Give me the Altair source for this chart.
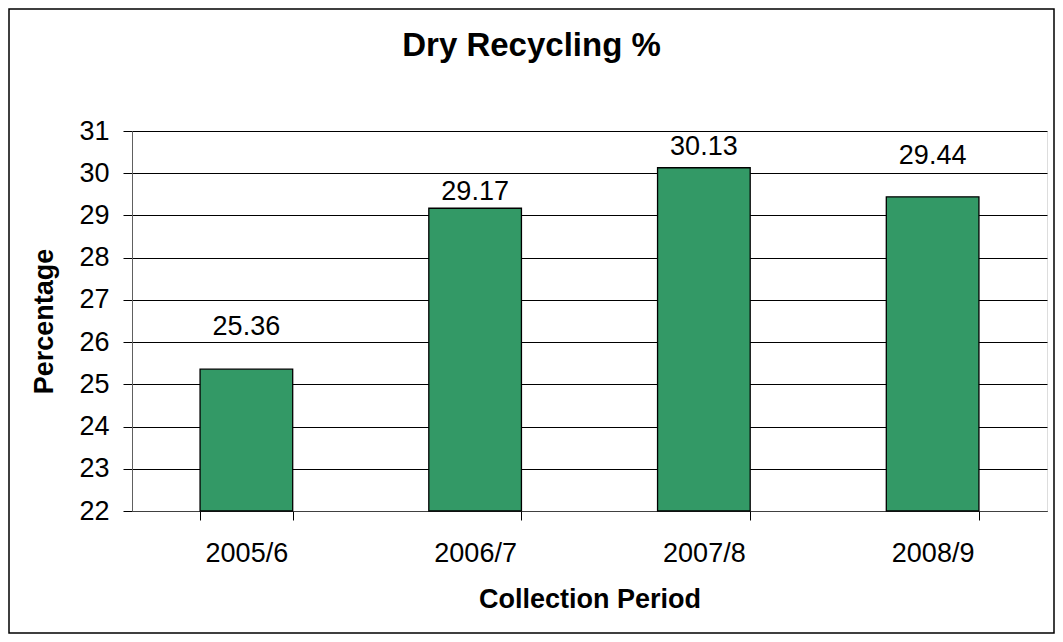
import altair as alt
import pandas as pd

periods = ["2005/6", "2006/7", "2007/8", "2008/9"]
recycling_pct = [25.36, 29.17, 30.13, 29.44]
y_ticks = [22, 23, 24, 25, 26, 27, 28, 29, 30, 31]

df = pd.DataFrame({"period": periods, "pct": recycling_pct})
df["label"] = df["pct"].map(lambda v: f"{v:.2f}")
df["base"] = y_ticks[0]

FONT = "Liberation Sans"
BAR_COLOR = "#339966"
# label lift above each bar top (pixels), as placed in the original
LABEL_DY = {"2005/6": -34, "2006/7": -8, "2007/8": -13, "2008/9": -33}

x_enc = alt.X(
    "period:N",
    sort=periods,
    scale=alt.Scale(paddingInner=0.595, paddingOuter=0.2975),
    axis=alt.Axis(
        title="Collection Period",
        tickBand="extent",
        labelAngle=0,
        tickSize=9,
        tickColor="black",
        labelPadding=20,
        labelFontSize=27,
        labelFont=FONT,
        labelColor="black",
        titleFontSize=27,
        titleFont=FONT,
        titleFontWeight="bold",
        titleColor="black",
        titlePadding=20,
        domainColor="#404040",
        grid=False,
    ),
)

y_scale = alt.Scale(domain=[y_ticks[0], y_ticks[-1]], nice=False, zero=False)
y_axis = alt.Axis(
    title="Percentage",
    values=y_ticks,
    tickSize=9,
    tickColor="black",
    labelPadding=14,
    labelFontSize=27,
    labelFont=FONT,
    labelColor="black",
    titleFontSize=27,
    titleFont=FONT,
    titleFontWeight="bold",
    titleColor="black",
    titlePadding=20,
    domainColor="#606060",
    grid=True,
    gridColor="black",
    gridWidth=1,
    gridOpacity=1,
)

bars = alt.Chart(df).mark_bar(
    color=BAR_COLOR, stroke="black", strokeWidth=1.3
).encode(
    x=x_enc,
    y=alt.Y("pct:Q", scale=y_scale, axis=y_axis),
    y2="base:Q",
)

text_common = dict(fontSize=27, font=FONT, color="black", baseline="alphabetic", align="center")

label_layers = []
for p in periods:
    label_layers.append(
        alt.Chart(df).transform_filter(
            alt.datum.period == p
        ).mark_text(dy=LABEL_DY[p], **text_common).encode(
            x=alt.X("period:N", sort=periods),
            y=alt.Y("pct:Q"),
            text="label:N",
        )
    )

border = alt.Chart(pd.DataFrame({"k": [0]})).mark_rect(
    fillOpacity=0, stroke="black", strokeWidth=1.5
).encode(
    x=alt.value(-123), x2=alt.value(922), y=alt.value(-122), y2=alt.value(502)
)

chart = alt.layer(bars, *label_layers, border).properties(
    width=915,
    height=380,
    padding={"left": 124, "top": 123, "right": 8, "bottom": 123},
    autosize=alt.AutoSizeParams(type="none"),
    title=alt.Title(
        "Dry Recycling %",
        fontSize=33,
        font=FONT,
        fontWeight="bold",
        color="black",
        anchor="middle",
        frame="bounds",
        offset=-55,
    ),
).configure_view(
    stroke="#808080", strokeWidth=1
).configure(background="white")

chart.save("out.html", embed_options={"renderer": "svg", "actions": False})
